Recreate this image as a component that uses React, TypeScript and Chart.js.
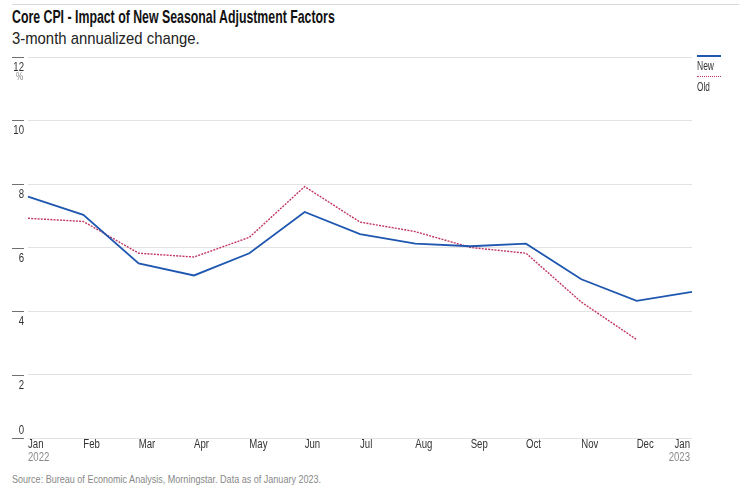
import React, { useEffect, useLayoutEffect, useRef } from "react";
import { Chart, registerables } from "chart.js";

Chart.register(...registerables);

const months = ["Jan", "Feb", "Mar", "Apr", "May", "Jun", "Jul", "Aug", "Sep", "Oct", "Nov", "Dec", "Jan"];
const years = ["2022", "", "", "", "", "", "", "", "", "", "", "", "2023"];
const newValues = [7.6, 7.03, 5.5, 5.12, 5.82, 7.12, 6.42, 6.12, 6.04, 6.12, 5.0, 4.32, 4.6];
const oldValues: (number | null)[] = [6.92, 6.82, 5.82, 5.7, 6.32, 7.92, 6.8, 6.5, 6.0, 5.82, 4.28, 3.1, null];
const yTicks = [0, 2, 4, 6, 8, 10, 12];

const FONT = "'Liberation Sans', Arial, sans-serif";
const BLUE = "#1f57b0";
const PINK = "#c2365f";
const SQUEEZE = 0.8;

function FitText(props: { width: number; style: any; children: any }) {
  const ref = useRef<HTMLSpanElement | null>(null);
  useLayoutEffect(() => {
    const el = ref.current;
    if (!el) return;
    el.style.transform = "none";
    const w = el.offsetWidth;
    if (w > 0) el.style.transform = `scaleX(${props.width / w})`;
  }, [props.width]);
  return (
    <span
      ref={ref}
      style={{
        position: "absolute",
        display: "inline-block",
        whiteSpace: "nowrap",
        transformOrigin: "0 0",
        ...props.style,
      }}
    >
      {props.children}
    </span>
  );
}

function squeezedText(ctx: CanvasRenderingContext2D, text: string, x: number, y: number, align: "left" | "right") {
  ctx.save();
  ctx.translate(x, y);
  ctx.scale(SQUEEZE, 1);
  ctx.textAlign = align;
  ctx.fillText(text, 0, 0);
  ctx.restore();
}

export default function App() {
  const ref = useRef<HTMLCanvasElement | null>(null);

  useEffect(() => {
    if (!ref.current) return;
    const customAxes = {
      id: "customAxes",
      afterDraw(chart: any) {
        const ctx = chart.ctx;
        const y = chart.scales.y;
        const x = chart.scales.x;
        ctx.save();
        ctx.textBaseline = "middle";
        y.ticks.forEach((t: any) => {
          const py = Math.round(y.getPixelForValue(t.value)) + 0.5;
          ctx.strokeStyle = "#707070";
          ctx.lineWidth = 1;
          ctx.beginPath();
          ctx.moveTo(12, py);
          ctx.lineTo(24, py);
          ctx.stroke();
          ctx.fillStyle = "#333";
          ctx.font = `12px ${FONT}`;
          const ly = t.value === 0 ? py - 8 : py + 10;
          squeezedText(ctx, String(t.value), 24, ly, "right");
        });
        ctx.fillStyle = "#888";
        ctx.font = `10px ${FONT}`;
        squeezedText(ctx, "%", 23, y.getPixelForValue(12) + 20, "right");
        const bottom = chart.chartArea.bottom;
        months.forEach((m, i) => {
          const px = x.getPixelForValue(i);
          const last = i === months.length - 1;
          const tx = last ? px - 2 : px;
          const al = last ? "right" : "left";
          ctx.fillStyle = "#333";
          ctx.font = `12px ${FONT}`;
          squeezedText(ctx, m, tx, bottom + 7, al);
          if (years[i]) {
            ctx.fillStyle = "#8a8a8a";
            squeezedText(ctx, years[i], tx, bottom + 20, al);
          }
        });
        ctx.restore();
      },
    };

    const chart = new Chart(ref.current, {
      type: "line",
      data: {
        labels: months.map((m, i) => (years[i] ? `${m} ${years[i]}` : m)),
        datasets: [
          {
            label: "New",
            data: newValues,
            borderColor: BLUE,
            backgroundColor: BLUE,
            borderWidth: 1.8,
            pointRadius: 0,
            tension: 0,
          },
          {
            label: "Old",
            data: oldValues,
            borderColor: PINK,
            backgroundColor: PINK,
            borderWidth: 1.4,
            borderDash: [2, 1.2],
            pointRadius: 0,
            tension: 0,
            spanGaps: false,
          },
        ],
      },
      options: {
        responsive: false,
        animation: false,
        devicePixelRatio: 1,
        layout: { padding: { top: 7, right: 47, left: 0, bottom: 0 } },
        plugins: {
          legend: { display: false },
          tooltip: { enabled: false },
          title: { display: false },
        },
        scales: {
          x: {
            type: "category",
            offset: false,
            grid: { display: false },
            border: { display: false },
            ticks: { display: false },
            afterFit: (s: any) => {
              s.height = 32;
            },
          },
          y: {
            min: 0,
            max: 12,
            afterBuildTicks: (s: any) => {
              s.ticks = yTicks.map((v) => ({ value: v }));
            },
            grid: { color: "#e3e3e3", drawTicks: false, lineWidth: 1 },
            border: { display: false },
            ticks: { display: false },
            afterFit: (s: any) => {
              s.width = 28;
            },
          },
        },
      },
      plugins: [customAxes],
    });
    return () => chart.destroy();
  }, []);

  return (
    <div
      style={{
        position: "fixed",
        left: 0,
        top: 0,
        width: 739,
        height: 491,
        background: "#fff",
        fontFamily: FONT,
        overflow: "hidden",
      }}
    >
      <div style={{ position: "absolute", left: 12, right: 0, top: 4, height: 1, background: "#d9d9d9" }} />
      <FitText width={323} style={{ left: 12, top: 6, fontSize: 19, fontWeight: "bold", color: "#111" }}>
        Core CPI - Impact of New Seasonal Adjustment Factors
      </FitText>
      <FitText width={188} style={{ left: 12, top: 29, fontSize: 17, color: "#222" }}>
        3-month annualized change.
      </FitText>
      <canvas
        ref={ref}
        width={739}
        height={420}
        style={{ position: "absolute", left: 0, top: 50, width: 739, height: 420 }}
      />
      <div style={{ position: "absolute", left: 697, top: 55, width: 24, height: 2, background: BLUE }} />
      <FitText width={17} style={{ left: 697, top: 59, fontSize: 12, color: "#333" }}>
        New
      </FitText>
      <div
        style={{
          position: "absolute",
          left: 697,
          top: 76,
          width: 24,
          height: 0,
          borderTop: `1.5px dotted ${PINK}`,
        }}
      />
      <FitText width={13} style={{ left: 697, top: 80, fontSize: 12, color: "#333" }}>
        Old
      </FitText>
      <FitText width={309} style={{ left: 12, top: 473, fontSize: 11.5, color: "#888" }}>
        Source: Bureau of Economic Analysis, Morningstar. Data as of January 2023.
      </FitText>
    </div>
  );
}
